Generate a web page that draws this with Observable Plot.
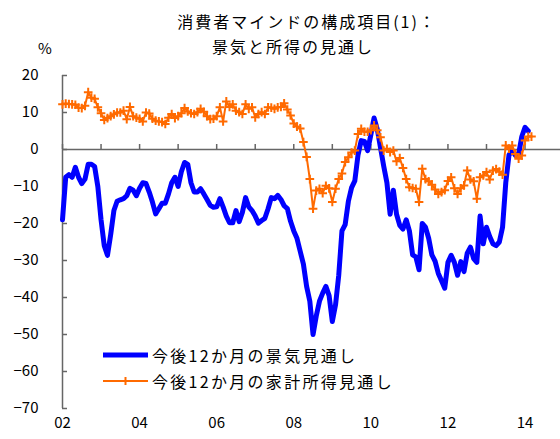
<!DOCTYPE html>
<html>
<head>
<meta charset="utf-8">
<script src="https://cdn.jsdelivr.net/npm/d3@7"></script>
<script src="https://cdn.jsdelivr.net/npm/@observablehq/plot@0.6"></script>
<style>
  html, body { margin: 0; padding: 0; background: #fff; }
  #wrap { position: relative; width: 560px; height: 439px; font-family: "Noto Sans CJK JP", "Noto Sans", sans-serif; color: #000; }
  .t { position: absolute; white-space: nowrap; font-size: 16px; line-height: 1; letter-spacing: 2px; }
  .lg { position: absolute; left: 103px; display: flex; align-items: center; font-size: 16px; letter-spacing: 2.3px; white-space: nowrap; line-height: 1; }
  .lg svg { margin-right: 4px; }
</style>
</head>
<body>
<div id="wrap">
  <div id="chart"></div>
  <div class="t" id="title1" style="top:13px; left:0; width:614px; text-align:center;">消費者マインドの構成項目(1)：</div>
  <div class="t" id="title2" style="top:38px; left:0; width:586px; text-align:center;">景気と所得の見通し</div>
  <div class="t" style="top:40px; left:38px; font-size:15px; letter-spacing:0;">%</div>
  <div class="lg" style="top:347px;">
    <svg width="45" height="10"><line x1="0" y1="5" x2="45" y2="5" stroke="#0000FF" stroke-width="5"/></svg>
    <span id="leg1"></span>
  </div>
  <div class="lg" style="top:373px;">
    <svg width="45" height="10"><line x1="0" y1="5" x2="45" y2="5" stroke="#FF6A00" stroke-width="2"/><line x1="18.5" y1="5" x2="26.5" y2="5" stroke="#FF6A00" stroke-width="2"/><line x1="22.5" y1="1" x2="22.5" y2="9" stroke="#FF6A00" stroke-width="2"/></svg>
    <span id="leg2"></span>
  </div>
</div>
<script>
// ---- data (monthly, from Jan 2002) ----
const startYear = 2002;
const seriesNames = ["今後12か月の景気見通し", "今後12か月の家計所得見通し"];

const outlookEconomy = [
  -19, -7.5, -6.8, -7.5, -4.8, -7.5, -9.2, -8, -4, -4, -4.6, -10,
  -19, -26, -28.6, -23, -16.5, -14, -13.6, -13.3, -12.5, -10.5, -11, -12.5,
  -10.5, -9, -9.2, -11.5, -14.2, -17.4, -16, -14.5, -14.5, -12, -9, -7.5,
  -10, -6, -3.5, -4, -9, -11.5, -11.5, -10.6, -12, -13.5, -15.1, -15.6,
  -15.5, -13.3, -15.5, -18, -19.8, -19.8, -16.5, -19.5, -17, -13, -15.5, -16.5,
  -18, -19.9, -19.2, -18.6, -16, -13, -13.3, -12.4, -13.5, -15.2, -16, -19.4,
  -22, -24, -27.5, -31, -37, -41, -50, -45, -41, -38.8, -37, -39.5,
  -46.5, -42, -34, -22, -20.3, -14, -10.3, -8.5, -1.5, 2.4, 2.2, -0.3,
  4, 8.5, 5.5, 0.5, -4.5, -9, -17.5, -11, -17.5, -20.5, -21.5, -19,
  -22, -28.5, -29, -32.5, -20, -21, -24, -28.5, -30.2, -33.5, -35.5, -37.5,
  -30.5, -28.6, -30.5, -34, -30.3, -33, -28, -26.4, -29.5, -30.5, -18, -25.5,
  -21, -23.5, -25.5, -26, -25, -21, -9, -1.5, -0.3, -1.6, -1.2, 3.5,
  6, 5
];

const outlookIncome = [
  12.2, 12.4, 12.3, 12.2, 12.1, 11.3, 11.2, 11.8, 15.5, 14, 13.7, 11.4,
  9.8, 8, 8.5, 9, 9.5, 10, 10, 10.5, 8.2, 11.5, 9, 8.6,
  8.3, 7.6, 10, 9.7, 8.3, 7.8, 7.6, 7.4, 6.9, 8.6, 9.6, 8.5,
  9, 9.8, 11.2, 10.3, 9.8, 9.6, 10.1, 11, 10.2, 9, 8.2, 8.3,
  9, 11.4, 7.6, 13, 11.5, 12.2, 10.5, 10.1, 9.6, 12.2, 11, 11.4,
  8.7, 9.6, 10.1, 9.6, 11.4, 11.3, 11, 11.4, 11.5, 12.5, 10.8, 9.2,
  7, 6.2, 5.7, 2, -2, -8, -16, -11.1, -10.6, -11.8, -9.8, -10.5,
  -14.2, -10.6, -8, -6.5, -3.4, -2.1, -0.8, -0.3, 4.2, 5.6, 4.8, 4.8,
  5.2, 6.5, 5.2, 3.3, -0.3, 0.2, -0.7, -0.3, -3.2, -2.3, -5, -8,
  -10.2, -10.4, -10.6, -14.2, -5.2, -8, -8.6, -9.5, -10.8, -12, -11.5, -11,
  -8.5, -7.5, -10.5, -12, -10.5, -9.7, -5.7, -8.1, -8.6, -13.3, -7.5, -7,
  -6.1, -8.1, -5.7, -5.3, -6, -6.8, 1.1, 0.2, 1.1, -1.2, -2.5, -1.6,
  2.4, 3.5, 3.5
];

const yTicks = [20, 10, 0, -10, -20, -30, -40, -50, -60, -70];
const xLabelYears = [2002, 2004, 2006, 2008, 2010, 2012, 2014];
const xLabels = ["02", "04", "06", "08", "10", "12", "14"];
const yearTicks = d3.range(2002, 2015);

// ---- build ----
const toRows = (vals) => vals.map((v, i) => ({ t: startYear + i / 12, v }));
const econ = toRows(outlookEconomy);
const income = toRows(outlookIncome);

const W = 560, H = 439, mL = 62, mR = 0, mT = 75, mB = 31;
const xDomain = [2002, 2014.92];
const yDomain = [-70, 20];
const pxPerX = (W - mL - mR) / (xDomain[1] - xDomain[0]);
const pxPerY = (H - mT - mB) / (yDomain[1] - yDomain[0]);
const tickLen = 5;
const axisColor = "#666";
const labelMap = new Map(xLabelYears.map((y, i) => [y, xLabels[i]]));

const chart = Plot.plot({
  width: W, height: H,
  marginLeft: mL, marginRight: mR, marginTop: mT, marginBottom: mB,
  x: { domain: xDomain },
  y: { domain: yDomain },
  style: { fontFamily: '"Noto Sans CJK JP", "Noto Sans", sans-serif', fontSize: "15px", color: "#000", background: "transparent", overflow: "visible" },
  marks: [
    Plot.ruleY([0], { stroke: axisColor, strokeWidth: 1.5 }),
    Plot.ruleX(yearTicks, { x: d => d, y1: 0, y2: tickLen / pxPerY, stroke: axisColor, strokeWidth: 1.5 }),
    Plot.ruleX([xDomain[0]], { y1: yDomain[0], y2: yDomain[1], stroke: axisColor, strokeWidth: 1.5 }),
    Plot.ruleY(yTicks, { y: d => d, x1: xDomain[0], x2: xDomain[0] + tickLen / pxPerX, stroke: axisColor, strokeWidth: 1.5 }),
    Plot.axisY({ ticks: yTicks, tickSize: 0, tickPadding: 24, label: null, tickFormat: d => (d < 0 ? "−" + Math.abs(d) : String(d)) }),
    Plot.axisX({ ticks: xLabelYears, tickSize: 0, tickPadding: 9, label: null, tickFormat: d => labelMap.get(d) }),
    Plot.line(econ, { x: "t", y: "v", stroke: "#0000FF", strokeWidth: 5 }),
    Plot.line(income, { x: "t", y: "v", stroke: "#FF6A00", strokeWidth: 2 }),
    Plot.dot(income, { x: "t", y: "v", symbol: "plus", r: 2.9, stroke: "#FF6A00", strokeWidth: 2 })
  ]
});
document.getElementById("chart").appendChild(chart);
document.getElementById("leg1").textContent = seriesNames[0];
document.getElementById("leg2").textContent = seriesNames[1];
</script>
</body>
</html>
